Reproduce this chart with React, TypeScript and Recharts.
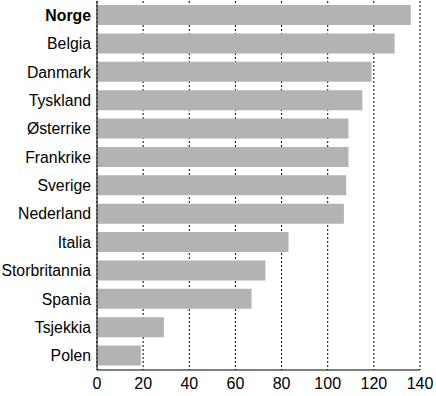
import React from 'react';
import { BarChart, Bar, XAxis, YAxis, CartesianGrid } from 'recharts';

const countries = [
  'Norge', 'Belgia', 'Danmark', 'Tyskland', 'Østerrike', 'Frankrike', 'Sverige',
  'Nederland', 'Italia', 'Storbritannia', 'Spania', 'Tsjekkia', 'Polen',
];
const values = [136, 129, 119, 115, 109, 109, 108, 107, 83, 73, 67, 29, 19];
const xTicks = [0, 20, 40, 60, 80, 100, 120, 140];

const data = countries.map((name, i) => ({ name, value: values[i] }));

const font = '"Liberation Sans", Arial, sans-serif';

const CountryTick = (props: any) => {
  const { x, y, payload } = props;
  const bold = payload.value === 'Norge';
  return (
    <text
      x={x}
      y={y}
      dy="0.355em"
      textAnchor="end"
      fill="#000"
      fontSize={15.8}
      fontFamily={font}
      fontWeight={bold ? 700 : 400}
    >
      {payload.value}
    </text>
  );
};

const App: React.FC = () => {
  return (
    <div style={{ position: 'absolute', left: 0, top: 0, width: 436, height: 396, background: '#fff' }}>
      <BarChart
        width={436}
        height={396}
        data={data}
        layout="vertical"
        margin={{ top: 1, right: 16, bottom: 0, left: 0 }}
        barSize={20}
      >
        <CartesianGrid horizontal={false} vertical stroke="#000" strokeDasharray="2 2" />
        <XAxis
          type="number"
          domain={[0, 140]}
          ticks={xTicks}
          height={26}
          axisLine={{ stroke: '#000' }}
          tickLine={false}
          tick={{ fill: '#000', fontSize: 16, fontFamily: font }}
          interval={0}
        />
        <XAxis
          xAxisId="top"
          orientation="top"
          type="number"
          domain={[0, 140]}
          height={0}
          tick={false}
          tickLine={false}
          axisLine={{ stroke: '#777' }}
        />
        <YAxis
          type="category"
          dataKey="name"
          width={97}
          axisLine={{ stroke: '#000' }}
          tickLine={false}
          tickSize={4}
          tick={<CountryTick />}
          interval={0}
        />
        <Bar dataKey="value" fill="#b3b3b3" isAnimationActive={false} />
      </BarChart>
    </div>
  );
};

export default App;
